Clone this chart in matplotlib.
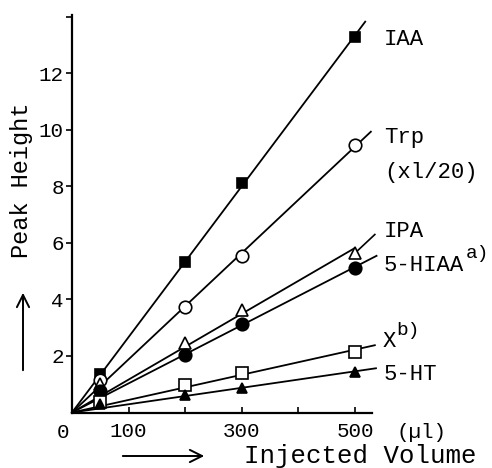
"""
Peak height vs injected volume for indole / serotonin metabolites.
Values read off a scanned calibration figure.
"""
import numpy as np
import matplotlib
matplotlib.use('Agg')
import matplotlib.pyplot as plt

plt.rcParams['font.family'] = ['Liberation Mono', 'DejaVu Sans Mono']

# injected volume (ul)
volume = [50, 200, 300, 500]

# peak heights (Trp already scaled x1/20)
iaa = [1.35, 5.33, 8.12, 13.29]
trp = [1.15, 3.73, 5.54, 9.47]
ipa = [1.00, 2.46, 3.63, 5.65]
hiaa = [0.75, 2.03, 3.13, 5.12]
x_b = [0.37, 0.97, 1.40, 2.14]
ht = [0.30, 0.62, 0.87, 1.43]

series_names = ['IAA', 'Trp', 'IPA', '5-HIAA', 'X', '5-HT']
series_vals = [iaa, trp, ipa, hiaa, x_b, ht]

# marker style per series, and where the fitted line stops
styles = {
    'IAA':    dict(marker='s', mfc='black', ms=7.5, end=518),
    'Trp':    dict(marker='o', mfc='white', ms=9, end=528),
    'IPA':    dict(marker='^', mfc='white', ms=8, end=500),
    '5-HIAA': dict(marker='o', mfc='black', ms=9, end=538),
    'X':      dict(marker='s', mfc='white', ms=8, end=535),
    '5-HT':   dict(marker='^', mfc='black', ms=7.5, end=537),
}

W, H = 492, 468
fig = plt.figure(figsize=(W / 100, H / 100), dpi=100)
ax = fig.add_axes([72 / W, 1 - 412.5 / H, 300 / W, 397.5 / H])

vol = np.array(volume, dtype=float)
for name, vals in zip(series_names, series_vals):
    st = styles[name]
    y = np.array(vals)
    slope = np.sum(vol * y) / np.sum(vol * vol)   # line through origin
    ax.plot([0, st['end']], [0, slope * st['end']], color='black', lw=1.3,
            clip_on=False, zorder=2)
    ax.plot(vol, y, linestyle='none', marker=st['marker'], mfc=st['mfc'],
            mec='black', mew=1.2, ms=st['ms'], clip_on=False, zorder=3)

# leader line IPA -> label
ax.plot([503, 535], [5.7, 6.3], color='black', lw=1.2, clip_on=False)

ax.set_xlim(0, 530)
ax.set_ylim(0, 14.07)
for s in ['top', 'right']:
    ax.spines[s].set_visible(False)
for s in ['left', 'bottom']:
    ax.spines[s].set_linewidth(1.6)

ax.set_xticks([100, 200, 300, 400, 500])
ax.set_xticklabels(['100', '', '300', '', '500'], fontsize=15)
ax.set_yticks([2, 4, 6, 8, 10, 12, 14])
ax.set_yticklabels(['2', '4', '6', '8', '10', '12', ''], fontsize=15)
ax.tick_params(axis='x', direction='in', length=4, width=1.2, pad=7)
ax.tick_params(axis='y', direction='out', length=4, width=1.2, pad=2)

# series labels
lab = dict(fontsize=16, ha='left', va='center', clip_on=False)
sup = dict(fontsize=14, ha='left', va='center', clip_on=False)
ax.text(551, 13.19, 'IAA', **lab)
ax.text(551, 9.75, 'Trp', **lab)
ax.text(551, 8.48, '(xl/20)', **lab)
ax.text(551, 6.39, 'IPA', **lab)
ax.text(551, 5.22, '5-HIAA', **lab)
ax.text(695, 5.62, 'a)', **sup)
ax.text(548, 2.50, 'X', **lab)
ax.text(573, 2.90, 'b)', **sup)
ax.text(551, 1.33, '5-HT', **lab)

# outside texts in figure pixels
def fx(px):
    return px / W

def fy(py):
    return 1 - py / H

fig.text(fx(63), fy(433), '0', fontsize=15, ha='center', va='center')
fig.text(fx(422), fy(433), '(\u00b5l)', fontsize=15, ha='center', va='center')
fig.text(fx(360), fy(456), 'Injected Volume', fontsize=18.5, ha='center', va='center')
fig.text(fx(22), fy(180), 'Peak Height', fontsize=17, rotation=90,
         ha='center', va='center')

arrow = dict(arrowstyle='->', lw=1.4, color='black', mutation_scale=22)
ax.annotate('', xy=(fx(207), fy(456)), xytext=(fx(120), fy(456)),
            xycoords='figure fraction', textcoords='figure fraction',
            arrowprops=arrow)
ax.annotate('', xy=(fx(23), fy(290)), xytext=(fx(23), fy(373)),
            xycoords='figure fraction', textcoords='figure fraction',
            arrowprops=arrow)

fig.savefig('out.png', dpi=100)
